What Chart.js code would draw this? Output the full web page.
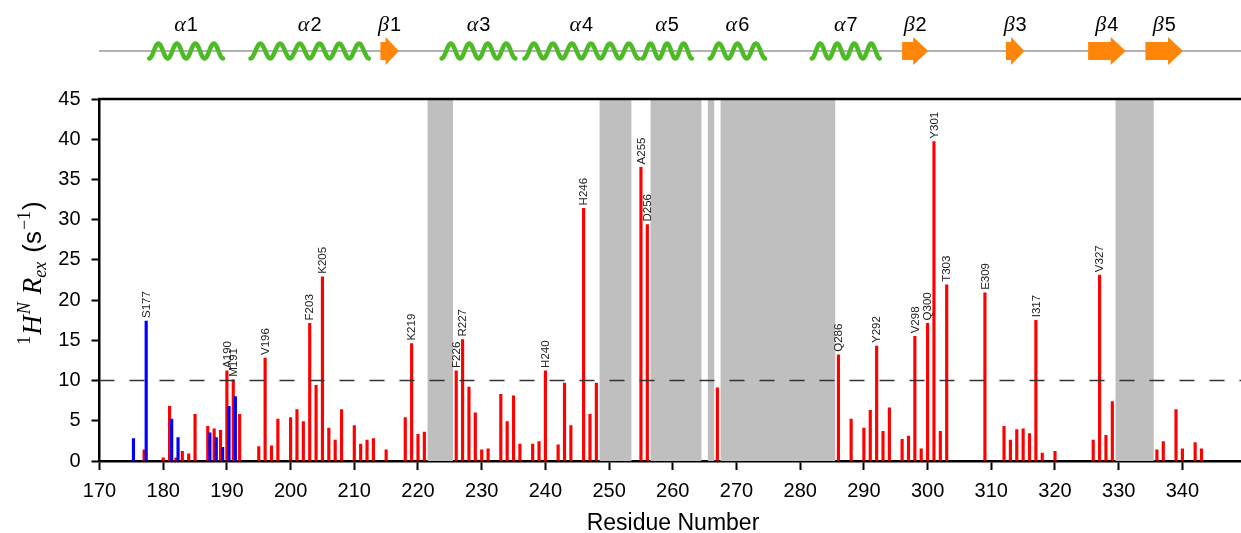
<!DOCTYPE html>
<html>
<head>
<meta charset="utf-8">
<script src="https://cdn.jsdelivr.net/npm/chart.js@4.4.0/dist/chart.umd.min.js"></script>
<style>
  body { margin: 0; background: #fff; }
  canvas { display: block; }
</style>
</head>
<body>
<canvas id="chart" width="1241" height="533"></canvas>
<script>
// Rex per residue (red = main set, blue = second set)
var redResidues = [177, 180, 181, 182, 183, 184, 185, 187, 188, 189, 190, 191, 192, 195, 196, 197, 198,
  200, 201, 202, 203, 204, 205, 206, 207, 208, 210, 211, 212, 213, 215, 218, 219, 220, 221,
  226, 227, 228, 229, 230, 231, 233, 234, 235, 236, 238, 239, 240, 242, 243, 244, 246, 247, 248,
  255, 256, 267, 286, 288, 290, 291, 292, 293, 294, 296, 297, 298, 299, 300, 301, 302, 303,
  309, 312, 313, 314, 315, 316, 317, 318, 320, 326, 327, 328, 329, 336, 337, 339, 340, 342, 343];
var redValues = [1.4, 0.4, 6.8, 0.4, 1.2, 0.9, 5.8, 4.3, 4.0, 3.8, 11.2, 10.1, 5.8, 1.8, 12.8, 1.9, 5.2,
  5.4, 6.4, 4.9, 17.1, 9.4, 22.9, 4.1, 2.6, 6.4, 4.4, 2.1, 2.6, 2.8, 1.4, 5.4, 14.6, 3.3, 3.6,
  11.2, 15.1, 9.2, 6.0, 1.4, 1.5, 8.3, 4.9, 8.1, 2.1, 2.1, 2.4, 11.2, 2.0, 9.7, 4.4, 31.4, 5.8, 9.7,
  36.5, 29.4, 9.1, 13.2, 5.2, 4.1, 6.3, 14.3, 3.7, 6.6, 2.7, 3.1, 15.5, 1.5, 17.1, 39.7, 3.7, 21.9,
  20.9, 4.3, 2.6, 3.9, 4.0, 3.4, 17.5, 1.0, 1.2, 2.6, 23.1, 3.2, 7.4, 1.4, 2.4, 6.4, 1.5, 2.3, 1.5];

var blueResidues = [175, 177, 181, 182, 187, 188, 189, 190, 191];
var blueValues = [2.8, 17.4, 5.2, 2.9, 3.5, 2.9, 1.7, 6.8, 8.0];

// residues annotated above their bars
var labelResidues = [177, 190, 191, 196, 203, 205, 219, 226, 227, 240, 246, 255, 256,
  286, 292, 298, 300, 301, 303, 309, 317, 327];
var labelNames = ['S177', 'A190', 'M191', 'V196', 'F203', 'K205', 'K219', 'F226', 'R227', 'H240', 'H246', 'A255', 'D256',
  'Q286', 'Y292', 'V298', 'Q300', 'Y301', 'T303', 'E309', 'I317', 'V327'];

// shaded residue ranges
var shadedRanges = [[221.5, 225.5], [248.5, 253.5], [256.5, 264.5], [265.5, 266.5], [267.5, 285.5], [329.5, 335.5]];

// secondary structure (residue ranges)
var helixRanges = [[177.8, 189.4], [193.7, 212.3], [223.7, 235.3], [236.7, 254.6], [255.2, 263.0], [265.8, 274.5], [281.8, 292.5]];
var helixNames = ['1', '2', '3', '4', '5', '6', '7'];
var strandRanges = [[214.1, 217.0], [296.0, 300.1], [312.3, 315.2], [325.2, 331.1], [334.2, 340.1]];
var strandNames = ['1', '2', '3', '4', '5'];

var xTicks = [170, 180, 190, 200, 210, 220, 230, 240, 250, 260, 270, 280, 290, 300, 310, 320, 330, 340];
var yTicks = [0, 5, 10, 15, 20, 25, 30, 35, 40, 45];
var threshold = 10;

var X_MIN = 170, X_MAX = 349.2;
var BLUE_SHIFT = 0.33;

Chart.defaults.font.family = "'Liberation Sans', Arial, sans-serif";
Chart.defaults.color = '#000';

function points(res, vals, shift) {
  return res.map(function (r, i) { return { x: r + shift, y: vals[i] }; });
}

function drawPieces(ctx, pieces, startX, baseY) {
  var x = startX;
  pieces.forEach(function (p) {
    ctx.font = p.font;
    ctx.fillText(p.t, x, baseY + (p.dy || 0));
    x += ctx.measureText(p.t).width + (p.after || 0);
  });
}
function piecesWidth(ctx, pieces) {
  var w = 0;
  pieces.forEach(function (p) {
    ctx.font = p.font;
    w += ctx.measureText(p.t).width + (p.after || 0);
  });
  return w;
}

var overlay = {
  id: 'overlay',
  beforeDatasetsDraw: function (chart) {
    var ctx = chart.ctx, xs = chart.scales.x, a = chart.chartArea;
    ctx.save();
    ctx.fillStyle = '#bfbfbf';
    shadedRanges.forEach(function (g) {
      var x0 = xs.getPixelForValue(g[0]), x1 = xs.getPixelForValue(g[1]);
      ctx.fillRect(x0, a.top, x1 - x0, a.bottom - a.top);
    });
    ctx.restore();
  },
  afterDatasetsDraw: function (chart) {
    var ctx = chart.ctx, ys = chart.scales.y, a = chart.chartArea;
    ctx.save();
    // threshold line
    var yt = ys.getPixelForValue(threshold);
    ctx.strokeStyle = '#333';
    ctx.lineWidth = 1.5;
    ctx.setLineDash([15, 15]);
    ctx.beginPath();
    ctx.moveTo(a.left, yt);
    ctx.lineTo(a.right, yt);
    ctx.stroke();
    ctx.setLineDash([]);
    // top spine
    ctx.strokeStyle = '#000';
    ctx.lineWidth = 2.5;
    ctx.beginPath();
    ctx.moveTo(a.left - 1.25, a.top);
    ctx.lineTo(a.right, a.top);
    ctx.stroke();

    // residue labels
    var metas = chart.getSortedVisibleDatasetMetas();
    ctx.fillStyle = '#222';
    ctx.font = "11.5px 'Liberation Sans', Arial, sans-serif";
    ctx.textAlign = 'left';
    ctx.textBaseline = 'middle';
    labelResidues.forEach(function (r, i) {
      var best = null;
      metas.forEach(function (m) {
        var ds = chart.data.datasets[m.index].data;
        m.data.forEach(function (el, j) {
          if (Math.round(ds[j].x) === r && (!best || el.y < best.y)) best = el;
        });
      });
      if (!best) return;
      ctx.save();
      ctx.translate(best.x + 0.5, best.y - 3);
      ctx.rotate(-Math.PI / 2);
      ctx.fillText(labelNames[i], 0, 0);
      ctx.restore();
    });
    ctx.restore();
  },
  afterDraw: function (chart) {
    var ctx = chart.ctx, xs = chart.scales.x;
    ctx.save();

    // secondary structure track
    var cy = 51;
    ctx.strokeStyle = '#999';
    ctx.lineWidth = 1.5;
    ctx.beginPath();
    ctx.moveTo(99, cy);
    ctx.lineTo(chart.width, cy);
    ctx.stroke();

    ctx.textBaseline = 'alphabetic';
    ctx.textAlign = 'left';
    function drawName(greek, num, cx) {
      var pcs = [
        { t: greek, font: "italic 22px 'Liberation Serif', serif", after: 1 },
        { t: num, font: "20px 'Liberation Sans', Arial, sans-serif" }
      ];
      ctx.fillStyle = '#000';
      drawPieces(ctx, pcs, cx - piecesWidth(ctx, pcs) / 2, 31);
    }

    ctx.lineCap = 'round';
    ctx.lineJoin = 'round';
    helixRanges.forEach(function (h, i) {
      var x0 = xs.getPixelForValue(h[0]), x1 = xs.getPixelForValue(h[1]);
      var len = x1 - x0;
      var n = Math.max(1, Math.round(len / 18.5));
      ctx.strokeStyle = '#4dbb25';
      ctx.lineWidth = 4.5;
      ctx.beginPath();
      for (var k = 0; k <= 120; k++) {
        var t = k / 120;
        var px = x0 + t * len;
        var py = cy - 7.5 * Math.sin(t * n * 2 * Math.PI - Math.PI / 2);
        if (k === 0) ctx.moveTo(px, py); else ctx.lineTo(px, py);
      }
      ctx.stroke();
      drawName('\u03b1', helixNames[i], (x0 + x1) / 2);
    });

    strandRanges.forEach(function (s, i) {
      var x0 = xs.getPixelForValue(s[0]), x1 = xs.getPixelForValue(s[1]);
      var len = x1 - x0;
      var head = Math.min(15, len * 0.72);
      ctx.fillStyle = '#ff8509';
      ctx.beginPath();
      ctx.moveTo(x0, cy - 9);
      ctx.lineTo(x1 - head, cy - 9);
      ctx.lineTo(x1 - head, cy - 14);
      ctx.lineTo(x1, cy);
      ctx.lineTo(x1 - head, cy + 14);
      ctx.lineTo(x1 - head, cy + 9);
      ctx.lineTo(x0, cy + 9);
      ctx.closePath();
      ctx.fill();
      drawName('\u03b2', strandNames[i], (x0 + x1) / 2);
    });

    // x axis title
    ctx.fillStyle = '#000';
    ctx.font = "23px 'Liberation Sans', Arial, sans-serif";
    ctx.textAlign = 'center';
    ctx.fillText('Residue Number', 673, 530);

    // y axis title
    ctx.textAlign = 'left';
    var big = "italic 27px 'Liberation Serif', serif";
    var small = "italic 18px 'Liberation Serif', serif";
    var sans = "26px 'Liberation Sans', Arial, sans-serif";
    var pcs = [
      { t: '1', font: "18px 'Liberation Serif', serif", dy: -11, after: 1 },
      { t: 'H', font: big, after: 1 },
      { t: 'N', font: small, dy: -11, after: 8 },
      { t: 'R', font: big },
      { t: 'ex', font: small, dy: 5, after: 9 },
      { t: '(', font: sans },
      { t: 's', font: sans, after: 1 },
      { t: '\u22121', font: "18px 'Liberation Serif', serif", dy: -11, after: 1 },
      { t: ')', font: sans }
    ];
    ctx.translate(41, 273);
    ctx.rotate(-Math.PI / 2);
    drawPieces(ctx, pcs, -piecesWidth(ctx, pcs) / 2, 0);
    ctx.restore();
  }
};

new Chart(document.getElementById('chart'), {
  type: 'bar',
  data: {
    datasets: [
      {
        label: 'blue',
        data: points(blueResidues, blueValues, BLUE_SHIFT),
        backgroundColor: '#0000ff',
        barThickness: 2.5,
        grouped: false
      },
      {
        label: 'red',
        data: points(redResidues, redValues, 0),
        backgroundColor: '#ff0000',
        barThickness: 2.5,
        grouped: false
      }
    ]
  },
  options: {
    responsive: false,
    animation: false,
    layout: { padding: { top: 99, right: 0, left: 0, bottom: 0 } },
    plugins: { legend: { display: false }, tooltip: { enabled: false } },
    scales: {
      x: {
        type: 'linear',
        min: X_MIN,
        max: X_MAX,
        offset: false,
        afterBuildTicks: function (scale) { scale.ticks = xTicks.map(function (v) { return { value: v }; }); },
        afterFit: function (scale) { scale.height = 72; },
        grid: { display: true, offset: false, drawOnChartArea: false, drawTicks: true, tickLength: 9, tickWidth: 2, tickColor: '#000' },
        border: { display: true, color: '#000', width: 2.5 },
        ticks: { font: { size: 20 }, color: '#000', padding: 9, maxRotation: 0, autoSkip: false }
      },
      y: {
        min: 0,
        max: 45,
        afterBuildTicks: function (scale) { scale.ticks = yTicks.map(function (v) { return { value: v }; }); },
        afterFit: function (scale) { scale.width = 99.5; },
        grid: { display: true, drawOnChartArea: false, drawTicks: true, tickLength: 8, tickWidth: 2, tickColor: '#000' },
        border: { display: true, color: '#000', width: 2.5 },
        ticks: { font: { size: 20 }, color: '#000', padding: 11 }
      }
    }
  },
  plugins: [overlay]
});
</script>
</body>
</html>
